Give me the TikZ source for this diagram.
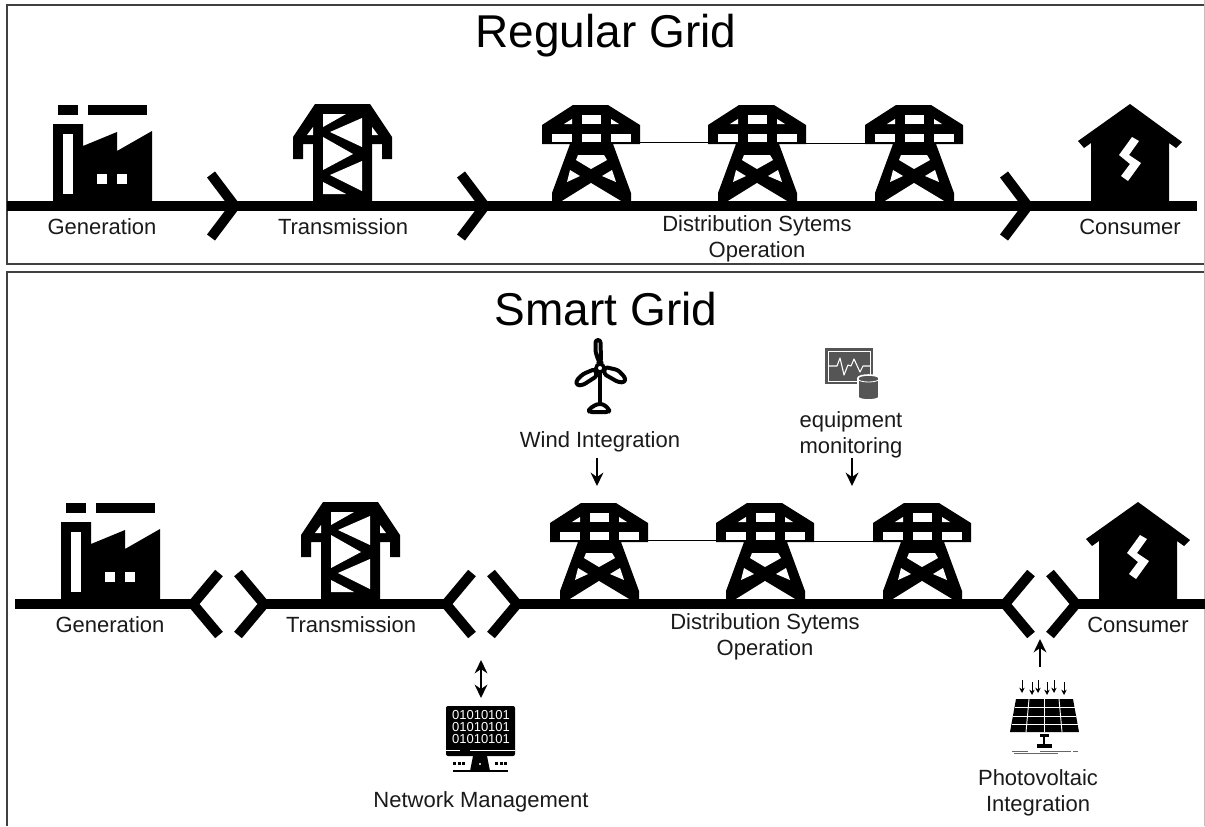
\documentclass[tikz,border=0pt]{standalone}
\usepackage{fontspec}
\setmainfont{Liberation Sans}
\usetikzlibrary{arrows.meta}
\definecolor{ink}{HTML}{1A1A1A}
\definecolor{monitorgray}{HTML}{555555}
\tikzset{
  panel/.style={draw=black!75,line width=1.5pt},
  mainline/.style={line width=7.5pt,black},
  chev/.style={line width=7.5pt,black,miter limit=10},
  lab/.style={font=\fontsize{16.5pt}{19.5pt}\selectfont,text=ink,align=center,inner sep=0pt},
  ttl/.style={font=\fontsize{34.5pt}{40pt}\selectfont,text=black,inner sep=0pt,anchor=base},
  flow/.style={-{Stealth[length=10pt,width=9.5pt]},line width=1.6pt,black},
  biflow/.style={{Stealth[length=10pt,width=9.5pt]}-{Stealth[length=10pt,width=9.5pt]},line width=1.6pt,black},
  sunray/.style={-{Stealth[length=4pt,width=4pt]},line width=0.7pt,black},
  blade/.style={draw=black,line width=3pt,rounded corners=2pt,fill=white,line join=round},
  bits/.style={font=\fontsize{9.75pt}{10pt}\selectfont,text=white,inner sep=0pt}
}
\newcommand{\factoryicon}{%
  \fill (58,104.5) rectangle (78,114.5);
  \fill (88,104.5) rectangle (147,114.5);
  \fill (53,201) -- (53,124) -- (83,124) -- (83,146) -- (117,132) -- (117,151) -- (152,131) -- (152,201) -- cycle;
  \fill[white] (63,134) rectangle (73,194);
  \fill[white] (97,174) rectangle (107,184);
  \fill[white] (117,174) rectangle (127,184);
}
\newcommand{\towericon}{%
  \fill (315,104) -- (370,104) -- (392,137) -- (392,159) -- (382,159) -- (382,144) -- (372,144) -- (372,201) -- (313,201) -- (313,144) -- (303,144) -- (303,159) -- (293,159) -- (293,137) -- cycle;
  \fill[white] (323,114) -- (346,114) -- (323,127) -- cycle;
  \fill[white] (362,118) -- (362,147) -- (330,132) -- cycle;
  \fill[white] (323,137) -- (323,170) -- (353,154) -- cycle;
  \fill[white] (362,161) -- (362,191) -- (330,175) -- cycle;
  \fill[white] (323,182) -- (323,194) -- (346,194) -- cycle;
  \fill[white] (307,135) -- (313,135) -- (313,127) -- cycle;
  \fill[white] (372,127) -- (372,135) -- (378,135) -- cycle;
}
\newcommand{\pylonicon}{%
  \fill (573,105) -- (608,105) -- (640,125) -- (640,144) -- (613,144) -- (631,193) -- (631,201) -- (552,201) -- (552,193) -- (570,144) -- (542,144) -- (542,125) -- cycle;
  \fill[white] (582,115) rectangle (601,124);
  \fill[white] (582,134) rectangle (601,142);
  \fill[white] (552,134) rectangle (572,142);
  \fill[white] (611,134) rectangle (631,142);
  \fill[white] (564,124) -- (572,124) -- (572,119) -- cycle;
  \fill[white] (611,119) -- (611,124) -- (619,124) -- cycle;
  \fill[white] (578,155) -- (604,155) -- (607,160) -- (591,169) -- (576,160) -- cycle;
  \fill[white] (567,182) -- (570,170) -- (580,176) -- cycle;
  \fill[white] (602,176) -- (612,170) -- (616,182) -- cycle;
  \fill[white] (562,201) -- (591,183) -- (621,201) -- cycle;
}
\newcommand{\houseicon}{%
  \fill (1130,104) -- (1182,142) -- (1176,148) -- (1169,143) -- (1169,202) -- (1091,202) -- (1091,143) -- (1084,148) -- (1078,141) -- cycle;
  \fill[white] (1132,137) -- (1139,141) -- (1129,155) -- (1141,163) -- (1128,181) -- (1121,176) -- (1130,164) -- (1119,155) -- cycle;
}
\newcommand{\gridrow}{%
  \factoryicon
  \towericon
  \pylonicon
  \begin{scope}[xshift=124.5pt]\pylonicon\end{scope}
  \begin{scope}[xshift=242.25pt]\pylonicon\end{scope}
  \draw[line width=1.2pt] (640,142.5) -- (708,142.5);
  \draw[line width=1.2pt] (778,143.5) -- (865,143.5);
  \houseicon
}
\begin{document}
\begin{tikzpicture}[x=0.75pt,y=-0.75pt]
\useasboundingbox (0,0) rectangle (1205,826);
\fill[white] (0,0) rectangle (1205,826);
% panels
\draw[panel] (1204.5,264) -- (7,264) -- (7,5) -- (1204.5,5);
\draw[panel] (1204.5,272) -- (7,272) -- (7,826);
\draw[black!25,line width=0.6pt] (1204.5,0) -- (1204.5,826);
% regular grid
\gridrow
\draw[mainline] (7,206) -- (1197,206);
\draw[chev] (211,174.5) -- (234.8,206) -- (211,237.5);
\draw[chev] (461,174.5) -- (484.8,206) -- (461,237.5);
\draw[chev] (1004,174.5) -- (1027.8,206) -- (1004,237.5);
\node[ttl] (t1) at (606,47) {Regular Grid};
\node[lab] (g1) at (102,227) {Generation};
\node[lab] (tr1) at (343,227) {Transmission};
\node[lab] (d1) at (757,239) {Distribution Sytems\\Operation};
\node[lab] (c1) at (1130,227) {Consumer};
% smart grid
\begin{scope}[yshift=-298.5pt,xshift=6pt]
\gridrow
\end{scope}
\draw[mainline] (15,604) -- (193,604);
\draw[mainline] (264,604) -- (446,604);
\draw[mainline] (517,604) -- (1005,604);
\draw[mainline] (1076,604) -- (1205,604);
\draw[chev] (219,573) -- (193,604) -- (219,635);
\draw[chev] (238,573) -- (264,604) -- (238,635);
\draw[chev] (472,573) -- (446,604) -- (472,635);
\draw[chev] (491,573) -- (517,604) -- (491,635);
\draw[chev] (1031,573) -- (1005,604) -- (1031,635);
\draw[chev] (1050,573) -- (1076,604) -- (1050,635);
\node[ttl] (t2) at (606,325) {Smart Grid};
\node[lab] (g2) at (110,625) {Generation};
\node[lab] (tr2) at (351,625) {Transmission};
\node[lab] (d2) at (765,637) {Distribution Sytems\\Operation};
\node[lab] (c2) at (1138,625) {Consumer};
\node[lab] (w) at (600,441.5) {Wind Integration};
\node[lab] (m) at (851,435) {equipment\\monitoring};
\node[lab] (n) at (481,802) {Network Management};
\node[lab] (p) at (1038,793) {Photovoltaic\\Integration};
% wind turbine icon
\draw[line width=2.6pt] (600,368) -- (600,404);
\draw[blade] (589,412) -- (589,409) -- (597,404) -- (603,404) -- (609,409) -- (609,412) -- cycle;
\draw[blade] (599,362) -- (595.5,352) -- (595.5,340) -- (600.5,340) -- (601,362) -- cycle;
\draw[blade] (595,369) -- (583,374) -- (576,381) -- (577,385.5) -- (583,385) -- (597,376) -- cycle;
\draw[blade] (605,367) -- (618,370) -- (625.5,378) -- (624.5,382.5) -- (618,382) -- (604,374) -- cycle;
\draw[draw=black,line width=2.6pt,fill=white] (600,368) circle[radius=4];
% equipment monitoring icon
\fill[monitorgray] (825,348) rectangle (873,384);
\draw[white,line width=0.5pt] (828,351) rectangle (870,381.5);
\draw[white,line width=0.8pt,line join=round] (828,366) -- (837,366) -- (840,358) -- (844,375) -- (848,365) -- (851,366) -- (854,359) -- (860,372) -- (863,366) -- (870,366);
\fill[monitorgray,draw=white,line width=1.2pt] (858,378) -- (858,397) arc[start angle=180,end angle=360,x radius=7.875pt,y radius=2.25pt] -- (879,378) arc[start angle=0,end angle=180,x radius=7.875pt,y radius=2.25pt] -- cycle;
\draw[white,line width=0.6pt] (858,379) arc[start angle=180,end angle=360,x radius=7.875pt,y radius=2.25pt];
% network management icon
\fill[black,rounded corners=1.5pt] (446,706) rectangle (515,756);
\node[bits] (b1) at (481,715) {01010101};
\node[bits] (b2) at (481,727.5) {01010101};
\node[bits] (b3) at (481,739.5) {01010101};
\draw[white,line width=0.6pt] (446,750) -- (460,750);
\draw[white,line width=0.6pt] (470,750) -- (515,750);
\fill (473,756) -- (487,756) -- (490,771) -- (470,771) -- cycle;
\fill[white] (480,764) circle[radius=1.2];
\draw[line width=0.8pt] (453,771) -- (508,771);
\foreach \xx in {453,457.5,462,495,499.5,504} \fill (\xx,762) rectangle ++(3,2.5);
% photovoltaic icon
\fill (1016,699) -- (1073,699) -- (1079,732) -- (1010,732) -- cycle;
\draw[white,line width=0.7pt] (1029,699) -- (1026,732);
\draw[white,line width=0.7pt] (1044.5,699) -- (1044.5,732);
\draw[white,line width=0.7pt] (1059,699) -- (1062,732);
\draw[white,line width=0.7pt] (1014.5,707) -- (1074.5,707);
\draw[white,line width=0.7pt] (1013,716) -- (1076,716);
\draw[white,line width=0.7pt] (1011.5,724) -- (1077.5,724);
\fill (1040,733.5) rectangle (1049,737);
\fill (1043,737) rectangle (1045,744);
\fill (1037,744) rectangle (1052,748);
\draw[black!60,line width=0.7pt] (1012,751) -- (1028,751);
\draw[black!60,line width=0.7pt] (1040,751) -- (1071,751);
\draw[black!60,line width=0.7pt] (1073,751) -- (1078,751);
\draw[black!60,line width=0.7pt] (1014,753.5) -- (1058,753.5);
\foreach \xx/\yy/\zz in {1022/680/693,1032/682/695,1038/680/693,1047/682/695,1054/680/693,1064/682/695}
  \draw[sunray] (\xx,\yy) -- (\xx,\zz);
% connectors
\coordinate (wa) at (597,458);
\coordinate (wb) at (597,486);
\coordinate (ma) at (852,458);
\coordinate (mb) at (852,486);
\coordinate (na) at (481,660);
\coordinate (nb) at (481,698);
\coordinate (pa) at (1040,667);
\coordinate (pb) at (1040,639);
\draw[flow] (wa) -- (wb);
\draw[flow] (ma) -- (mb);
\draw[biflow] (na) -- (nb);
\draw[flow] (pa) -- (pb);
\end{tikzpicture}
\end{document}
